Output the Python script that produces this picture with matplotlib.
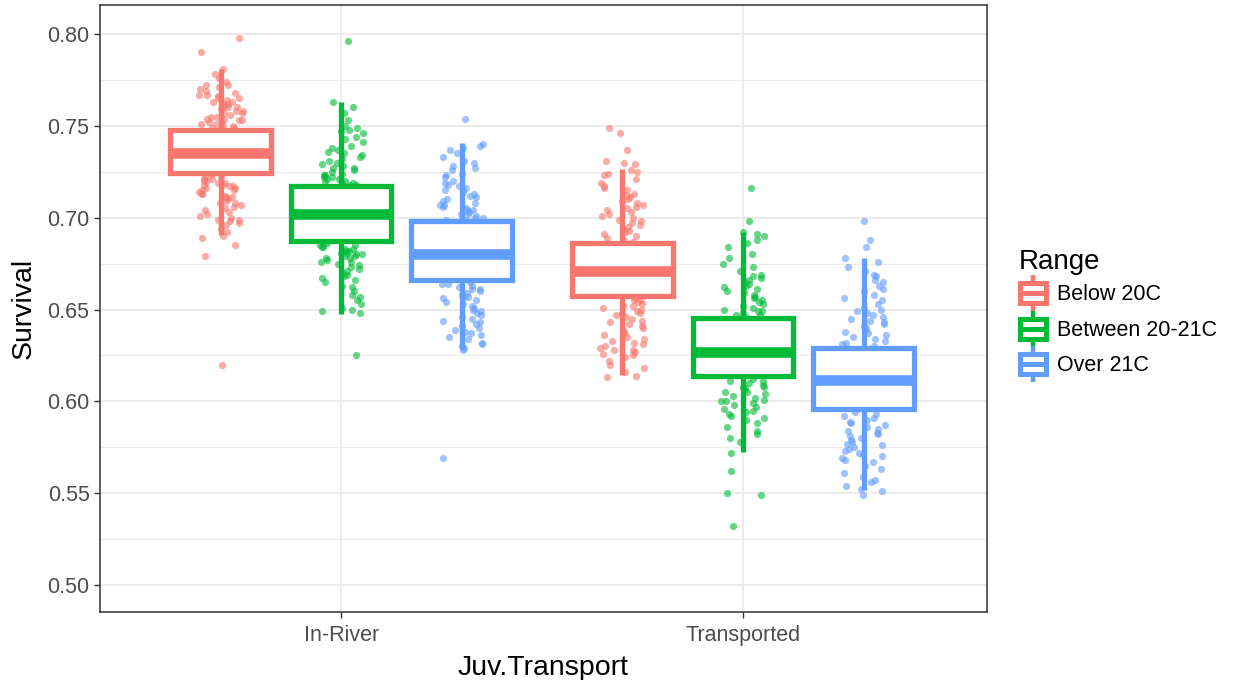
import matplotlib
matplotlib.use('Agg')
import matplotlib.pyplot as plt
from matplotlib.legend_handler import HandlerBase
from matplotlib.patches import Rectangle
from matplotlib.lines import Line2D
import numpy as np

plt.rcParams['font.family'] = ['Liberation Sans', 'DejaVu Sans']

# ---------------- data ----------------
groups = ['In-River', 'Transported']
ranges = ['Below 20C', 'Between 20-21C', 'Over 21C']
colors = ['#F8766D', '#00BA38', '#619CFF']

# box statistics, rows = groups, cols = ranges
box_whislo = [[0.6906, 0.6474, 0.6283], [0.6143, 0.5726, 0.5517]]
box_q1 = [[0.7242, 0.6871, 0.6660], [0.6573, 0.6138, 0.5957]]
box_med = [[0.7354, 0.7020, 0.6802], [0.6711, 0.6270, 0.6116]]
box_q3 = [[0.7480, 0.7172, 0.6984], [0.6864, 0.6456, 0.6289]]
box_whishi = [[0.7808, 0.7630, 0.7405], [0.7267, 0.6922, 0.6779]]

# jittered survival values visible outside the boxes
pts_river_below = [0.798, 0.790, 0.781, 0.778, 0.776, 0.774, 0.772, 0.772, 0.771, 0.770, 0.769, 0.768,
                   0.767, 0.767, 0.766, 0.765, 0.765, 0.764, 0.763, 0.763, 0.762, 0.762, 0.761, 0.760,
                   0.760, 0.759, 0.758, 0.758, 0.757, 0.757, 0.756, 0.755, 0.755, 0.754, 0.754, 0.753,
                   0.753, 0.752, 0.752, 0.751, 0.751, 0.750, 0.750, 0.749, 0.749,
                   0.723, 0.722, 0.722, 0.721, 0.721, 0.720, 0.720, 0.719, 0.719, 0.718, 0.718, 0.717,
                   0.717, 0.716, 0.716, 0.715, 0.715, 0.714, 0.713, 0.713, 0.712, 0.711, 0.711, 0.710,
                   0.709, 0.708, 0.708, 0.707, 0.706, 0.705, 0.704, 0.703, 0.702, 0.701, 0.700, 0.699,
                   0.699, 0.698, 0.697, 0.696, 0.694, 0.692, 0.690, 0.689, 0.685, 0.679, 0.620]
pts_river_between = [0.796, 0.763, 0.760, 0.757, 0.753, 0.750, 0.749, 0.748, 0.747, 0.746, 0.744, 0.743,
                     0.741, 0.739, 0.738, 0.737, 0.736, 0.735, 0.734, 0.733, 0.732, 0.731, 0.730, 0.729,
                     0.728, 0.727, 0.727, 0.726, 0.725, 0.724, 0.723, 0.723, 0.722, 0.722, 0.721, 0.721,
                     0.720, 0.720, 0.719, 0.719, 0.718, 0.718,
                     0.686, 0.686, 0.685, 0.685, 0.684, 0.684, 0.683, 0.683, 0.682, 0.682, 0.681, 0.681,
                     0.680, 0.680, 0.679, 0.679, 0.678, 0.678, 0.677, 0.676, 0.676, 0.675, 0.674, 0.673,
                     0.672, 0.671, 0.670, 0.669, 0.668, 0.667, 0.666, 0.665, 0.663, 0.662, 0.660, 0.658,
                     0.657, 0.655, 0.653, 0.651, 0.650, 0.649, 0.648, 0.625]
pts_river_over = [0.754, 0.740, 0.739, 0.738, 0.737, 0.735, 0.733, 0.731, 0.730, 0.728, 0.727, 0.726,
                  0.724, 0.723, 0.722, 0.720, 0.719, 0.718, 0.717, 0.716, 0.715, 0.714, 0.713, 0.712,
                  0.711, 0.710, 0.709, 0.708, 0.707, 0.707, 0.706, 0.705, 0.704, 0.704, 0.703, 0.702,
                  0.702, 0.701, 0.700, 0.700, 0.699, 0.699,
                  0.665, 0.664, 0.664, 0.663, 0.662, 0.661, 0.661, 0.660, 0.659, 0.658, 0.657, 0.657,
                  0.656, 0.655, 0.654, 0.653, 0.652, 0.651, 0.650, 0.649, 0.648, 0.647, 0.646, 0.645,
                  0.644, 0.643, 0.642, 0.641, 0.640, 0.639, 0.638, 0.637, 0.636, 0.635, 0.634, 0.632,
                  0.631, 0.630, 0.629, 0.628, 0.569]
pts_trans_below = [0.749, 0.746, 0.737, 0.731, 0.730, 0.729, 0.726, 0.725, 0.724, 0.723, 0.721, 0.719,
                   0.717, 0.716, 0.715, 0.713, 0.712, 0.711, 0.710, 0.709, 0.708, 0.707, 0.706, 0.705,
                   0.704, 0.703, 0.702, 0.701, 0.700, 0.699, 0.698, 0.697, 0.696, 0.695, 0.694, 0.693,
                   0.692, 0.691, 0.690, 0.689, 0.688, 0.687,
                   0.656, 0.655, 0.655, 0.654, 0.653, 0.652, 0.652, 0.651, 0.650, 0.649, 0.648, 0.648,
                   0.647, 0.646, 0.645, 0.644, 0.643, 0.642, 0.641, 0.640, 0.639, 0.638, 0.637, 0.636,
                   0.635, 0.634, 0.633, 0.632, 0.631, 0.630, 0.629, 0.628, 0.628, 0.627, 0.626, 0.625,
                   0.624, 0.622, 0.620, 0.618, 0.616, 0.614, 0.613]
pts_trans_between = [0.716, 0.698, 0.692, 0.691, 0.690, 0.688, 0.686, 0.684, 0.680, 0.678, 0.675, 0.673,
                     0.671, 0.669, 0.668, 0.667, 0.666, 0.665, 0.664, 0.663, 0.662, 0.661, 0.660, 0.659,
                     0.658, 0.657, 0.656, 0.655, 0.654, 0.653, 0.652, 0.651, 0.650, 0.649, 0.649, 0.648,
                     0.647, 0.647, 0.646,
                     0.612, 0.611, 0.611, 0.610, 0.609, 0.608, 0.608, 0.607, 0.606, 0.605, 0.605, 0.604,
                     0.603, 0.602, 0.601, 0.600, 0.600, 0.599, 0.598, 0.597, 0.596, 0.595, 0.594, 0.593,
                     0.592, 0.591, 0.590, 0.588, 0.586, 0.584, 0.582, 0.580, 0.578, 0.572, 0.562, 0.550,
                     0.549, 0.532]
pts_trans_over = [0.698, 0.688, 0.684, 0.678, 0.676, 0.673, 0.671, 0.669, 0.668, 0.666, 0.665, 0.663,
                  0.661, 0.660, 0.658, 0.656, 0.655, 0.653, 0.651, 0.650, 0.649, 0.648, 0.647, 0.646,
                  0.645, 0.644, 0.643, 0.642, 0.641, 0.640, 0.639, 0.638, 0.637, 0.636, 0.635, 0.634,
                  0.633, 0.632, 0.631, 0.630,
                  0.594, 0.593, 0.592, 0.591, 0.590, 0.589, 0.588, 0.587, 0.586, 0.585, 0.584, 0.583,
                  0.582, 0.581, 0.580, 0.579, 0.578, 0.577, 0.576, 0.575, 0.574, 0.573, 0.572, 0.571,
                  0.570, 0.569, 0.568, 0.567, 0.565, 0.563, 0.561, 0.559, 0.557, 0.556, 0.554, 0.552,
                  0.551, 0.549]

points = [[pts_river_below, pts_river_between, pts_river_over],
          [pts_trans_below, pts_trans_between, pts_trans_over]]

y_ticks = [0.50, 0.55, 0.60, 0.65, 0.70, 0.75, 0.80]

# ---------------- figure ----------------
fig = plt.figure(figsize=(12.38, 6.80), dpi=100)
ax = fig.add_axes([100 / 1238, 68 / 680, 887 / 1238, 607 / 680])

dodge = [-0.3, 0.0, 0.3]
box_w = 0.25
jit_w = 0.055
lw = 3.8

for gi, g in enumerate(groups):
    for ri, r in enumerate(ranges):
        c = colors[ri]
        pos = gi + 1 + dodge[ri]
        vals = np.array(points[gi][ri])
        k = np.arange(len(vals)) + 17 * (3 * gi + ri) + 1
        # deterministic hash-based horizontal jitter (position only)
        u = np.abs(np.sin(k * 12.9898) * 43758.5453) % 1.0
        xs = pos + (u - 0.5) * 2 * jit_w
        ax.scatter(xs, vals, s=27, color=c, alpha=0.6, linewidths=0, zorder=2)
        st = [dict(med=box_med[gi][ri], q1=box_q1[gi][ri], q3=box_q3[gi][ri],
                   whislo=box_whislo[gi][ri], whishi=box_whishi[gi][ri], fliers=[])]
        ax.bxp(st, positions=[pos], widths=box_w, patch_artist=True, showfliers=False,
               showcaps=False, manage_ticks=False,
               boxprops=dict(facecolor='white', edgecolor=c, linewidth=lw, zorder=3),
               whiskerprops=dict(color=c, linewidth=lw, solid_capstyle='butt', zorder=3),
               medianprops=dict(color=c, linewidth=2 * lw, solid_capstyle='butt', zorder=4))

ax.set_xlim(0.4, 2.607)
ax.set_ylim(0.4853, 0.8158)
ax.set_xticks([1, 2])
ax.set_xticklabels(groups)
ax.set_yticks(y_ticks)
ax.set_yticklabels(['%.2f' % v for v in y_ticks])
ax.set_yticks([0.525, 0.575, 0.625, 0.675, 0.725, 0.775], minor=True)
ax.tick_params(axis='both', which='major', length=4.5, width=1, color='#333333',
               labelsize=15.5, labelcolor='#4D4D4D', pad=3)
ax.tick_params(axis='x', which='major', pad=5)
ax.tick_params(axis='y', which='minor', length=0)
ax.grid(True, which='major', color='#EBEBEB', linewidth=1.3, zorder=0)
ax.grid(True, which='minor', axis='y', color='#EBEBEB', linewidth=0.8, zorder=0)
ax.set_axisbelow(True)
for s in ax.spines.values():
    s.set_color('#333333')
    s.set_linewidth(1.1)

ax.set_ylabel('Survival', fontsize=20.5, color='black', labelpad=8)
ax.set_xlabel('Juv.Transport', fontsize=20.5, color='black', labelpad=6)


# ---------------- legend ----------------
class BoxKey(HandlerBase):
    def __init__(self, color):
        super().__init__()
        self.color = color

    def create_artists(self, legend, orig_handle, xdescent, ydescent, width, height, fontsize, trans):
        c = self.color
        cx = -xdescent + width / 2
        y0 = -ydescent
        bw = width * 0.9
        bh = height * 0.6
        by = y0 + (height - bh) / 2
        whisk = Line2D([cx, cx], [y0 - 1, y0 + height + 1], color=c, lw=3.2, solid_capstyle='butt',
                       transform=trans)
        rect = Rectangle((cx - bw / 2, by), bw, bh, facecolor='white', edgecolor=c, lw=3.6,
                         transform=trans)
        med = Line2D([cx - bw / 2, cx + bw / 2], [by + bh / 2] * 2, color=c, lw=3.6,
                     solid_capstyle='butt', transform=trans)
        return [whisk, rect, med]


handles = [Rectangle((0, 0), 1, 1) for _ in ranges]
hmap = {h: BoxKey(c) for h, c in zip(handles, colors)}
leg = fig.legend(handles, ranges, handler_map=hmap, loc='upper left',
                 bbox_to_anchor=(1010 / 1238, 1 - 240 / 680), frameon=False,
                 fontsize=15.5, title='Range', title_fontsize=20,
                 handlelength=1.35, handleheight=2.0, labelspacing=0.1,
                 handletextpad=0.45, borderaxespad=0, alignment='left')

fig.savefig('out.png', dpi=100)
